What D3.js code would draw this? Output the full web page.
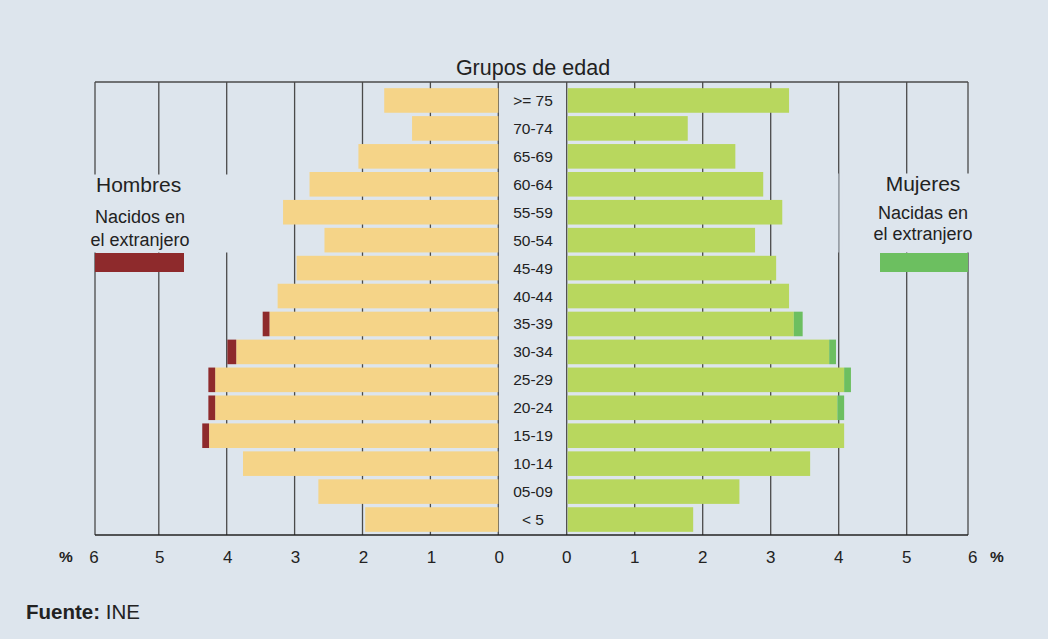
<!DOCTYPE html>
<html><head><meta charset="utf-8">
<script src="https://cdn.jsdelivr.net/npm/d3@7"></script>
<style>
html,body{margin:0;padding:0;background:#dde5ed;}
svg{display:block;font-family:"Liberation Sans",Arial,sans-serif;}
</style></head>
<body>
<svg id="chart" width="1048" height="639"></svg>
<script>
const ageGroups = [">= 75","70-74","65-69","60-64","55-59","50-54","45-49","40-44","35-39","30-34","25-29","20-24","15-19","10-14","05-09","< 5"];
const menNative   = [1.68,1.27,2.06,2.78,3.17,2.56,2.97,3.25,3.37,3.86,4.17,4.17,4.26,3.76,2.65,1.96];
const menForeign  = [0,0,0,0,0,0,0,0,0.10,0.13,0.10,0.10,0.10,0,0,0];
const womenNative = [3.27,1.78,2.48,2.89,3.17,2.77,3.08,3.27,3.34,3.86,4.08,3.98,4.08,3.58,2.54,1.86];
const womenForeign= [0,0,0,0,0,0,0,0,0.13,0.10,0.10,0.10,0,0,0,0];
const ticks = [0,1,2,3,4,5,6];

const svg = d3.select("#chart");
const bg = "#dde5ed";
svg.append("rect").attr("width",1048).attr("height",639).attr("fill",bg);

const xL = d3.scaleLinear().domain([0,6]).range([498.3,90.9]);
const xR = d3.scaleLinear().domain([0,6]).range([566.7,974.7]);
const y = d3.scaleBand().domain(ageGroups).range([86.5,533.5]).paddingInner(0.12).paddingOuter(0.06);
const frameTop = 82, frameBottom = 535, frameL = 95, frameR = 968;
const gridCol = "#4a4a4a";

// gridlines
const g = svg.append("g");
[1,2,3,4,5].forEach(t=>{
  g.append("line").attr("x1",xL(t)).attr("x2",xL(t)).attr("y1",frameTop).attr("y2",frameBottom).attr("stroke",gridCol).attr("stroke-width",1.3);
  g.append("line").attr("x1",xR(t)).attr("x2",xR(t)).attr("y1",frameTop).attr("y2",frameBottom).attr("stroke",gridCol).attr("stroke-width",1.3);
});
[xL(0),xR(0),frameL,frameR].forEach(x=>{
  g.append("line").attr("x1",x).attr("x2",x).attr("y1",frameTop).attr("y2",frameBottom).attr("stroke",gridCol).attr("stroke-width",1.3);
});
g.append("line").attr("x1",frameL).attr("x2",frameR).attr("y1",frameTop).attr("y2",frameTop).attr("stroke",gridCol).attr("stroke-width",1.5);
g.append("line").attr("x1",frameL).attr("x2",frameR).attr("y1",frameBottom).attr("y2",frameBottom).attr("stroke","#222").attr("stroke-width",1.6);

// legend gaps
svg.append("rect").attr("x",frameL-2).attr("y",174.5).attr("width",xL(3.9)-frameL+2).attr("height",78).attr("fill",bg);
svg.append("rect").attr("x",xR(4.06)).attr("y",173.5).attr("width",frameR-xR(4.06)+2).attr("height",79).attr("fill",bg);
svg.append("line").attr("x1",xR(4)).attr("x2",xR(4)).attr("y1",173.5).attr("y2",252.5).attr("stroke","#aab3bd").attr("stroke-width",1);

// bars
const cMenN="#f5d488", cMenF="#8e2a2c", cWomN="#b8d75e", cWomF="#6cbf60";
const bars = svg.append("g");
ageGroups.forEach((a,i)=>{
  bars.append("rect").attr("x",xL(menNative[i])).attr("y",y(a)).attr("width",xL(0)-xL(menNative[i])).attr("height",y.bandwidth()).attr("fill",cMenN);
  if(menForeign[i]>0) bars.append("rect").attr("x",xL(menNative[i]+menForeign[i])).attr("y",y(a)).attr("width",xL(menNative[i])-xL(menNative[i]+menForeign[i])).attr("height",y.bandwidth()).attr("fill",cMenF);
  bars.append("rect").attr("x",xR(0)+1).attr("y",y(a)).attr("width",xR(womenNative[i])-xR(0)-1).attr("height",y.bandwidth()).attr("fill",cWomN);
  if(womenForeign[i]>0) bars.append("rect").attr("x",xR(womenNative[i])).attr("y",y(a)).attr("width",xR(womenNative[i]+womenForeign[i])-xR(womenNative[i])).attr("height",y.bandwidth()).attr("fill",cWomF);
});

// age labels
svg.append("g").selectAll("text").data(ageGroups).join("text")
  .attr("x",533).attr("y",d=>y(d)+y.bandwidth()/2+5.5).attr("text-anchor","middle")
  .attr("font-size",15.5).attr("fill","#222").text(d=>d);

// axis tick labels
const ax = svg.append("g").attr("font-size",17).attr("fill","#222").attr("text-anchor","middle");
ticks.forEach(t=>{
  ax.append("text").attr("x",xL(t)+ (t===6?3:1)).attr("y",563).text(t);
  ax.append("text").attr("x",xR(t)+ (t===6?-2:0)).attr("y",563).text(t);
});
svg.append("text").attr("x",66).attr("y",562).attr("text-anchor","middle").attr("font-size",15.5).attr("font-weight","bold").attr("fill","#222").text("%");
svg.append("text").attr("x",997).attr("y",562).attr("text-anchor","middle").attr("font-size",15.5).attr("font-weight","bold").attr("fill","#222").text("%");

// titles
svg.append("text").attr("x",533).attr("y",75).attr("text-anchor","middle").attr("font-size",21.5).attr("fill","#222").text("Grupos de edad");

svg.append("text").attr("x",96).attr("y",191.5).attr("font-size",21).attr("fill","#222").text("Hombres");
svg.append("text").attr("x",140).attr("y",223).attr("text-anchor","middle").attr("font-size",18).attr("fill","#222").text("Nacidos en");
svg.append("text").attr("x",140).attr("y",245.5).attr("text-anchor","middle").attr("font-size",18).attr("fill","#222").text("el extranjero");
svg.append("rect").attr("x",95).attr("y",253).attr("width",89).attr("height",19).attr("fill",cMenF);

svg.append("text").attr("x",923).attr("y",190.5).attr("text-anchor","middle").attr("font-size",21).attr("fill","#222").text("Mujeres");
svg.append("text").attr("x",923).attr("y",219).attr("text-anchor","middle").attr("font-size",18).attr("fill","#222").text("Nacidas en");
svg.append("text").attr("x",923).attr("y",240).attr("text-anchor","middle").attr("font-size",18).attr("fill","#222").text("el extranjero");
svg.append("rect").attr("x",880).attr("y",253).attr("width",88).attr("height",19).attr("fill",cWomF);

const src = svg.append("text").attr("x",26).attr("y",619).attr("font-size",20.5).attr("fill","#222");
src.append("tspan").attr("font-weight","bold").text("Fuente:");
src.append("tspan").text(" INE");
</script>
</body></html>
